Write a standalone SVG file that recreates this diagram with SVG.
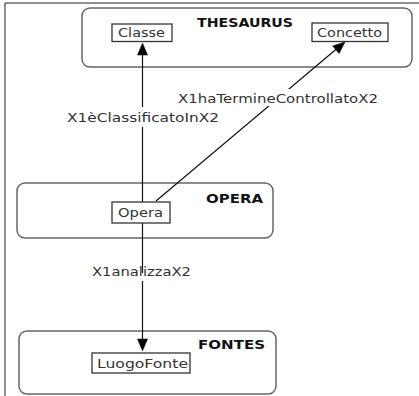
<svg xmlns="http://www.w3.org/2000/svg" width="419" height="396" viewBox="0 0 419 396">
  <style>
    .frame { fill: none; stroke: #222; stroke-width: 1; }
    .cont { fill: #fff; stroke: #666; stroke-width: 1.5; }
    .box { fill: #fff; stroke: #333; stroke-width: 1.3; }
    .txt { font-family: "DejaVu Sans", Verdana, sans-serif; font-size: 12.5px; fill: #333; }
    .btxt { font-family: "DejaVu Sans", Verdana, sans-serif; font-size: 12px; font-weight: bold; fill: #111; }
    .edge { fill: none; stroke: #111; stroke-width: 1.2; }
    .head { fill: #000; stroke: #000; stroke-width: 0.5; }
    .lbl { font-family: "DejaVu Sans", Verdana, sans-serif; font-size: 12.5px; fill: #333; }
    .lblbg { fill: #fff; }
  </style>
  <rect width="419" height="396" fill="#fff"/>
  <path class="frame" d="M5,396 V3 H419"/>

  <g id="thesaurus">
    <rect class="cont" x="82" y="8" width="330" height="59" rx="8"/>
    <text class="btxt" x="197" y="27" textLength="96" lengthAdjust="spacingAndGlyphs">THESAURUS</text>
  </g>
  <g id="opera-group">
    <rect class="cont" x="17" y="183" width="256" height="55" rx="8"/>
    <text class="btxt" x="206" y="203" textLength="57" lengthAdjust="spacingAndGlyphs">OPERA</text>
  </g>
  <g id="fontes">
    <rect class="cont" x="19" y="331" width="257" height="63" rx="8"/>
    <text class="btxt" x="198" y="349" textLength="67" lengthAdjust="spacingAndGlyphs">FONTES</text>
  </g>

  <g id="connectors">
    <path class="edge" d="M142.5,202 V50"/>
    <path class="head" d="M142.5,43 L147.5,55 L137.5,55 Z"/>
    <path class="edge" d="M156,201 L340,46"/>
    <path class="head" d="M345,42 L339.1,53.6 L332.6,45.9 Z"/>
    <path class="edge" d="M142.5,223 V345"/>
    <path class="head" d="M142.5,351 L137.5,339 L147.5,339 Z"/>
    <rect class="lblbg" x="64" y="107" width="158" height="20"/>
    <text class="lbl" x="67" y="122" textLength="152" lengthAdjust="spacingAndGlyphs">X1èClassificatoInX2</text>
    <rect class="lblbg" x="176" y="89" width="204" height="17"/>
    <text class="lbl" x="178" y="103" textLength="200" lengthAdjust="spacingAndGlyphs">X1haTermineControllatoX2</text>
    <rect class="lblbg" x="136" y="273" width="12" height="8"/>
    <text class="lbl" x="92" y="276" textLength="99" lengthAdjust="spacingAndGlyphs">X1analizzaX2</text>
  </g>

  <g id="classe">
    <rect class="box" x="112" y="24" width="60" height="17.5"/>
    <text class="txt" x="118" y="37" textLength="47" lengthAdjust="spacingAndGlyphs">Classe</text>
  </g>
  <g id="concetto">
    <rect class="box" x="312" y="23" width="76" height="18.5"/>
    <text class="txt" x="317" y="37" textLength="65" lengthAdjust="spacingAndGlyphs">Concetto</text>
  </g>
  <g id="opera">
    <rect class="box" x="112" y="202" width="58" height="21"/>
    <text class="txt" x="118" y="217" textLength="45" lengthAdjust="spacingAndGlyphs">Opera</text>
  </g>
  <g id="luogofonte">
    <rect class="box" x="92" y="353" width="98" height="20"/>
    <text class="txt" x="97" y="367.5" textLength="91" lengthAdjust="spacingAndGlyphs">LuogoFonte</text>
  </g>
</svg>
